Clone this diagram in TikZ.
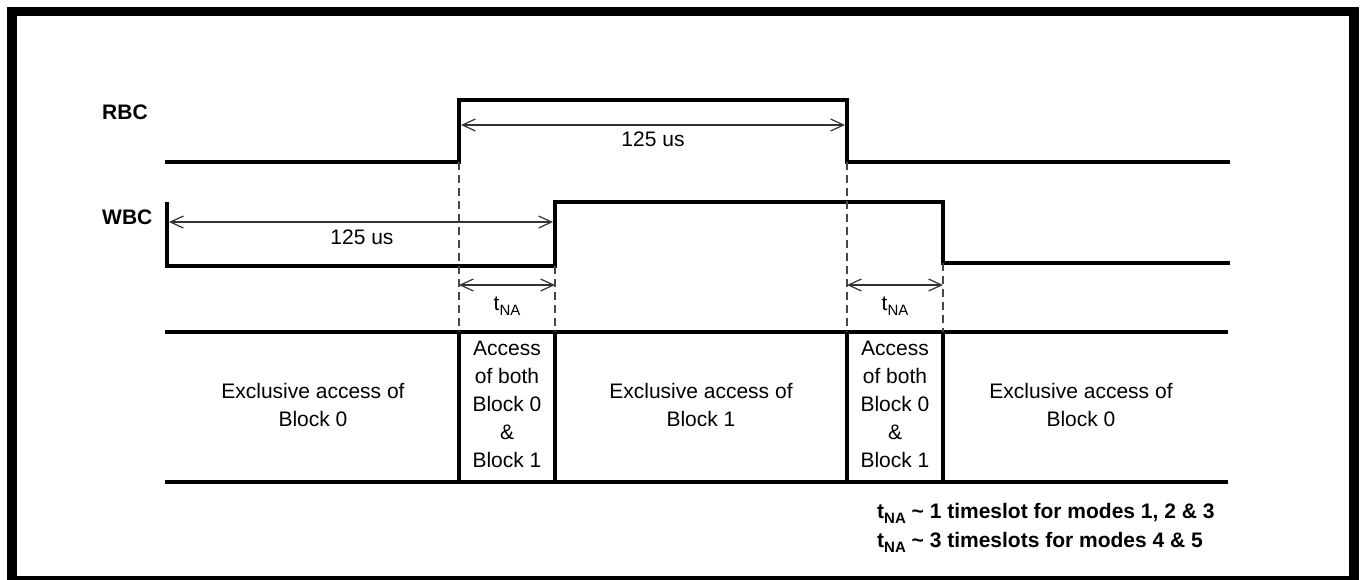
\documentclass[tikz,border=0pt]{standalone}
\usepackage{fontspec}
\setmainfont{Liberation Sans}
\usetikzlibrary{arrows.meta}
\newcommand{\mysub}[1]{\raisebox{-5pt}{\fontsize{15}{15}\selectfont #1}}
\begin{document}
\begin{tikzpicture}[x=1pt,y=-1pt,
  frame/.style={line width=9.5pt, line join=miter},
  sig/.style={line width=3.5pt, line join=miter},
  tbl/.style={line width=3.5pt},
  guide/.style={line width=1.2pt, draw=black!72, dash pattern=on 8pt off 5pt},
  dim/.style={line width=1.2pt, draw=black!80,
    {Straight Barb[length=13pt,width=12pt]}-{Straight Barb[length=13pt,width=12pt]}},
  lbl/.style={font=\fontsize{21}{28}\selectfont, inner sep=0pt, align=center},
  blbl/.style={font=\bfseries\fontsize{21}{28}\selectfont, inner sep=0pt}
]
\useasboundingbox (0,0) rectangle (1361,579);
\draw[frame] (12,11.5) rectangle (1354,581);

% RBC signal
\coordinate (r0) at (165,162);
\coordinate (r1) at (459,162);
\coordinate (r2) at (459,100);
\coordinate (r3) at (847,100);
\coordinate (r4) at (847,162);
\coordinate (r5) at (1230,162);
\draw[sig] (r0) -- (r1) -- (r2) -- (r3) -- (r4) -- (r5);

% WBC signal
\coordinate (w0) at (167,202);
\coordinate (w1) at (167,266);
\coordinate (w2) at (555,266);
\coordinate (w3) at (555,202);
\coordinate (w4) at (943,202);
\coordinate (w5) at (943,263);
\coordinate (w6) at (1230,263);
\draw[sig] (w0) -- (w1) -- (w2) -- (w3) -- (w4) -- (w5) -- (w6);

% table
\coordinate (tl) at (165,332);
\coordinate (tr) at (1228,332);
\coordinate (bl) at (165,482);
\coordinate (br) at (1228,482);
\coordinate (t1) at (459,332);
\coordinate (t2) at (555,332);
\coordinate (t3) at (847,332);
\coordinate (t4) at (943,332);
\coordinate (b1) at (459,482);
\coordinate (b2) at (555,482);
\coordinate (b3) at (847,482);
\coordinate (b4) at (943,482);
\draw[tbl] (tl) -- (tr);
\draw[tbl] (bl) -- (br);
\draw[tbl] (t1) -- (b1);
\draw[tbl] (t2) -- (b2);
\draw[tbl] (t3) -- (b3);
\draw[tbl] (t4) -- (b4);

% guide lines
\draw[guide] (r1) -- (t1);
\draw[guide] (w2) -- (t2);
\draw[guide] (r4) -- (t3);
\draw[guide] (w5) -- (t4);

% dimension arrows
\coordinate (a1) at (461,125);
\coordinate (a2) at (845,125);
\coordinate (a3) at (169,222);
\coordinate (a4) at (553,222);
\coordinate (a5) at (459,285);
\coordinate (a6) at (555,285);
\coordinate (a7) at (847,285);
\coordinate (a8) at (943,285);
\draw[dim] (a1) -- (a2);
\draw[dim] (a3) -- (a4);
\draw[dim] (a5) -- (a6);
\draw[dim] (a7) -- (a8);

\node[lbl, anchor=base] (l1) at (653,146.7) {125 us};
\node[lbl, anchor=base] (l2) at (362,244) {125 us};
\node[lbl, anchor=base] (l3) at (507,310) {t\mysub{NA}};
\node[lbl, anchor=base] (l4) at (895,310) {t\mysub{NA}};

\node[blbl, anchor=base west] (rbc) at (102,119.3) {RBC};
\node[blbl, anchor=base west] (wbc) at (102,224) {WBC};

% cell texts (base = last line baseline)
\node[lbl, anchor=base] (c1) at (313,426) {Exclusive access of\\Block 0};
\node[lbl, anchor=base] (c2) at (507,467) {Access\\of both\\Block 0\\\&\\Block 1};
\node[lbl, anchor=base] (c3) at (701,426) {Exclusive access of\\Block 1};
\node[lbl, anchor=base] (c4) at (895,467) {Access\\of both\\Block 0\\\&\\Block 1};
\node[lbl, anchor=base] (c5) at (1081,426) {Exclusive access of\\Block 0};

% notes
\node[blbl, anchor=base west] (n1) at (877,518.5) {t\mysub{NA} \textasciitilde{} 1 timeslot for modes 1, 2 \& 3};
\node[blbl, anchor=base west] (n2) at (877,547) {t\mysub{NA} \textasciitilde{} 3 timeslots for modes 4 \& 5};
\end{tikzpicture}
\end{document}
